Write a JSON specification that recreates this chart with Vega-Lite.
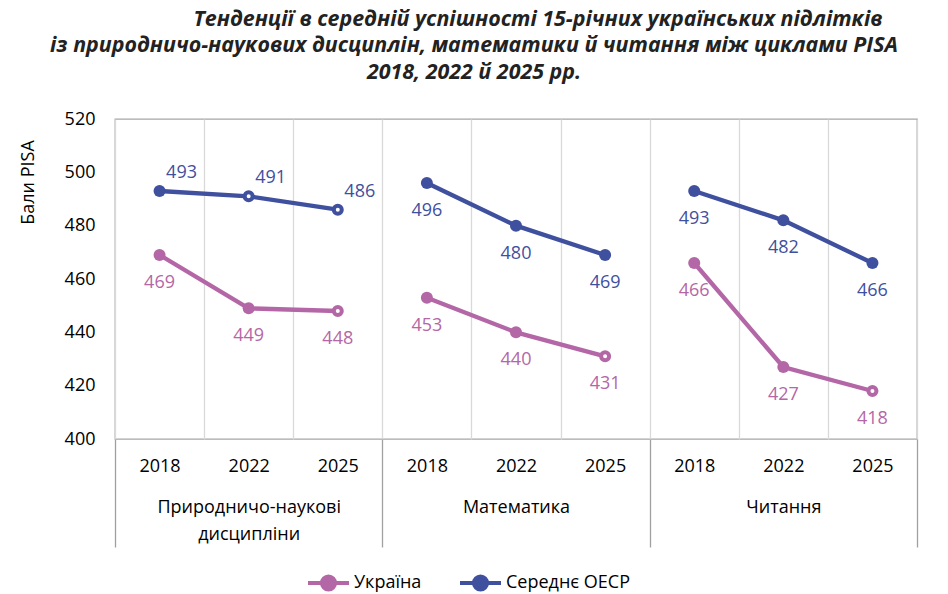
{
  "$schema": "https://vega.github.io/schema/vega-lite/v6.json",
  "description": "PISA 2018, 2022, 2025: Ukraine vs OECD average by subject.",
  "width": 802,
  "height": 320,
  "autosize": {"type": "none"},
  "padding": {"left": 115, "top": 119, "right": 31, "bottom": 155},
  "title": {
    "text": [
      "\u2800\u2800\u2800\u2800\u2800\u2800\u2800\u2800Тенденції в середній успішності 15-річних українських підлітків",
      "із природничо-наукових дисциплін, математики й читання між циклами PISA",
      "2018, 2022 й 2025 рр."
    ],
    "font": "Open Sans",
    "fontSize": 21.4,
    "fontStyle": "italic",
    "fontWeight": "bold",
    "color": "#222222",
    "anchor": "middle",
    "frame": "group",
    "dx": -42,
    "lineHeight": 26.5,
    "offset": 27
  },
  "data": {
    "values": [
      {"subject": "Природничо-наукові дисципліни", "year": "2018", "cat": "Природничо-наукові дисципліни|2018", "series": "Україна", "score": 469, "hollow": false},
      {"subject": "Природничо-наукові дисципліни", "year": "2022", "cat": "Природничо-наукові дисципліни|2022", "series": "Україна", "score": 449, "hollow": false},
      {"subject": "Природничо-наукові дисципліни", "year": "2025", "cat": "Природничо-наукові дисципліни|2025", "series": "Україна", "score": 448, "hollow": true},
      {"subject": "Природничо-наукові дисципліни", "year": "2018", "cat": "Природничо-наукові дисципліни|2018", "series": "Середнє ОЕСР", "score": 493, "hollow": false},
      {"subject": "Природничо-наукові дисципліни", "year": "2022", "cat": "Природничо-наукові дисципліни|2022", "series": "Середнє ОЕСР", "score": 491, "hollow": true},
      {"subject": "Природничо-наукові дисципліни", "year": "2025", "cat": "Природничо-наукові дисципліни|2025", "series": "Середнє ОЕСР", "score": 486, "hollow": true},
      {"subject": "Математика", "year": "2018", "cat": "Математика|2018", "series": "Україна", "score": 453, "hollow": false},
      {"subject": "Математика", "year": "2022", "cat": "Математика|2022", "series": "Україна", "score": 440, "hollow": false},
      {"subject": "Математика", "year": "2025", "cat": "Математика|2025", "series": "Україна", "score": 431, "hollow": true},
      {"subject": "Математика", "year": "2018", "cat": "Математика|2018", "series": "Середнє ОЕСР", "score": 496, "hollow": false},
      {"subject": "Математика", "year": "2022", "cat": "Математика|2022", "series": "Середнє ОЕСР", "score": 480, "hollow": false},
      {"subject": "Математика", "year": "2025", "cat": "Математика|2025", "series": "Середнє ОЕСР", "score": 469, "hollow": false},
      {"subject": "Читання", "year": "2018", "cat": "Читання|2018", "series": "Україна", "score": 466, "hollow": false},
      {"subject": "Читання", "year": "2022", "cat": "Читання|2022", "series": "Україна", "score": 427, "hollow": false},
      {"subject": "Читання", "year": "2025", "cat": "Читання|2025", "series": "Україна", "score": 418, "hollow": true},
      {"subject": "Читання", "year": "2018", "cat": "Читання|2018", "series": "Середнє ОЕСР", "score": 493, "hollow": false},
      {"subject": "Читання", "year": "2022", "cat": "Читання|2022", "series": "Середнє ОЕСР", "score": 482, "hollow": false},
      {"subject": "Читання", "year": "2025", "cat": "Читання|2025", "series": "Середнє ОЕСР", "score": 466, "hollow": false}
    ]
  },
  "layer": [
    {
      "encoding": {
        "x": {
          "field": "cat",
          "type": "nominal",
          "scale": {
            "domain": [
              "Природничо-наукові дисципліни|2018", "Природничо-наукові дисципліни|2022", "Природничо-наукові дисципліни|2025",
              "Математика|2018", "Математика|2022", "Математика|2025",
              "Читання|2018", "Читання|2022", "Читання|2025"
            ],
            "paddingInner": 0,
            "paddingOuter": 0
          },
          "axis": {
            "orient": "bottom",
            "title": null,
            "labelExpr": "split(datum.value, '|')[1]",
            "labelAngle": 0,
            "labelFontSize": 18,
            "labelColor": "#000000",
            "labelPadding": 18,
            "ticks": false,
            "domain": false,
            "grid": true,
            "tickBand": "extent",
            "gridColor": "#d9d9d9",
            "gridWidth": 1.3
          }
        },
        "y": {
          "field": "score",
          "type": "quantitative",
          "scale": {"domain": [400, 520], "nice": false, "zero": false},
          "axis": {
            "title": "Бали PISA",
            "titleFontSize": 18,
            "titleFontWeight": "normal",
            "titleColor": "#000000",
            "titleAngle": -90,
            "titleAlign": "center",
            "titleBaseline": "middle",
            "titleX": -87,
            "titleY": 63,
            "values": [400, 420, 440, 460, 480, 500, 520],
            "labelFontSize": 18,
            "labelColor": "#000000",
            "labelPadding": 20,
            "ticks": false,
            "domain": false,
            "grid": false
          }
        }
      },
      "layer": [
        {
          "mark": {"type": "line", "strokeWidth": 4.3},
          "encoding": {
            "color": {
              "field": "series",
              "type": "nominal",
              "scale": {"domain": ["Україна", "Середнє ОЕСР"], "range": ["#b467a6", "#3f509f"]},
              "legend": {
                "title": null,
                "orient": "none",
                "direction": "horizontal",
                "legendX": 191,
                "legendY": 441,
                "padding": 0,
                "symbolType": "M-1,0L1,0M-0.32,0A0.32,0.32,0,1,1,0.32,0A0.32,0.32,0,1,1,-0.32,0Z",
                "symbolSize": 1681,
                "symbolStrokeWidth": 4,
                "labelFontSize": 18,
                "labelColor": "#000000",
                "labelOffset": 3,
                "columnPadding": 30,
                "encode": {
                  "symbols": {
                    "update": {
                      "fill": {"scale": "color", "field": "value"},
                      "stroke": {"scale": "color", "field": "value"},
                      "strokeWidth": {"value": 4},
                      "opacity": {"value": 1}
                    }
                  }
                }
              }
            },
            "detail": {"field": "subject"}
          }
        },
        {
          "transform": [{"filter": "!datum.hollow"}],
          "mark": {"type": "point", "shape": "circle", "filled": true, "size": 145, "opacity": 1},
          "encoding": {
            "color": {"field": "series", "type": "nominal"}
          }
        },
        {
          "transform": [{"filter": "datum.hollow"}],
          "mark": {"type": "point", "shape": "circle", "filled": false, "fill": "#ffffff", "fillOpacity": 1, "size": 64, "strokeWidth": 4, "opacity": 1},
          "encoding": {
            "color": {"field": "series", "type": "nominal"}
          }
        },
        {
          "transform": [{"filter": "datum.subject === 'Природничо-наукові дисципліни' && datum.series === 'Середнє ОЕСР'"}],
          "mark": {"type": "text", "fontSize": 18, "dx": 22, "dy": -18, "baseline": "middle", "align": "center"},
          "encoding": {
            "text": {"field": "score", "type": "quantitative"},
            "color": {"field": "series", "type": "nominal"}
          }
        },
        {
          "transform": [{"filter": "!(datum.subject === 'Природничо-наукові дисципліни' && datum.series === 'Середнє ОЕСР')"}],
          "mark": {"type": "text", "fontSize": 18, "dx": 0, "dy": 28, "baseline": "middle", "align": "center"},
          "encoding": {
            "text": {"field": "score", "type": "quantitative"},
            "color": {"field": "series", "type": "nominal"}
          }
        }
      ]
    },
    {
      "mark": {"type": "rule", "opacity": 0},
      "encoding": {
        "x": {
          "field": "subject",
          "type": "nominal",
          "scale": {
            "domain": ["Природничо-наукові дисципліни", "Математика", "Читання"],
            "paddingInner": 0,
            "paddingOuter": 0
          },
          "axis": {
            "orient": "bottom",
            "title": null,
            "domain": false,
            "grid": false,
            "ticks": true,
            "tickBand": "extent",
            "tickSize": 108,
            "tickColor": "#a0a0a0",
            "tickWidth": 1.3,
            "labelPadding": -49,
            "labelBaseline": "top",
            "labelAngle": 0,
            "labelFontSize": 18,
            "labelColor": "#000000",
            "labelLineHeight": 27,
            "labelLimit": 400,
            "labelExpr": "datum.value === 'Природничо-наукові дисципліни' ? ['Природничо-наукові', 'дисципліни'] : datum.value"
          }
        }
      }
    }
  ],
  "resolve": {"scale": {"x": "independent"}, "axis": {"x": "independent"}},
  "config": {
    "font": "Open Sans",
    "view": {"stroke": "#a6a6a6", "strokeWidth": 1.3},
    "text": {"font": "Open Sans"}
  }
}
